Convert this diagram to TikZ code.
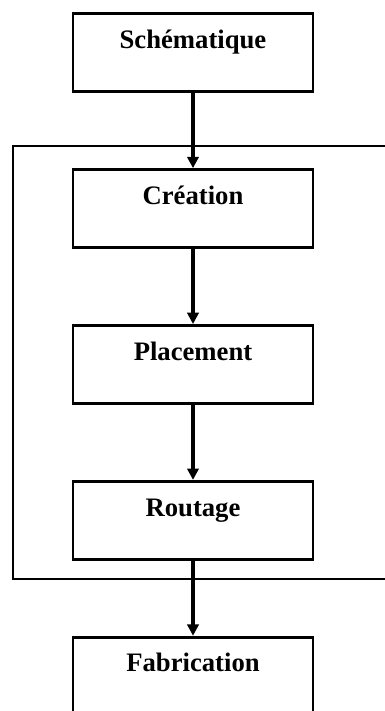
\documentclass[tikz,border=0pt]{standalone}
\usepackage{fontspec}
\setmainfont{Liberation Serif}
\usetikzlibrary{matrix,arrows.meta}

\tikzset{
  etape/.style={draw, line width=2.2pt, minimum width=180pt, inner sep=0pt,
    text height=26pt, text depth=32.5pt, font=\fontsize{20}{24}\selectfont\bfseries},
  fleche/.style={draw, line width=2.4pt, -{Triangle[length=8.5pt,width=8.5pt]}}
}

\begin{document}
\begin{tikzpicture}[x=0.75pt,y=-0.75pt]
  \clip (0,0) rectangle (385,711);
  \useasboundingbox (0,0) rectangle (385,711);
  \matrix (m) [matrix of nodes, nodes=etape, row sep=56.2pt, inner sep=0pt, anchor=north] at (193,12)
  {
Schématique \\
Création \\
Placement \\
Routage \\
Fabrication \\
};
  \draw[line width=0.9pt] (13,146) rectangle (400,579);
  \path[every edge/.style=fleche]
  (m-1-1) edge (m-2-1)
  (m-2-1) edge (m-3-1)
  (m-3-1) edge (m-4-1)
  (m-4-1) edge (m-5-1)
  ;
\end{tikzpicture}
\end{document}
